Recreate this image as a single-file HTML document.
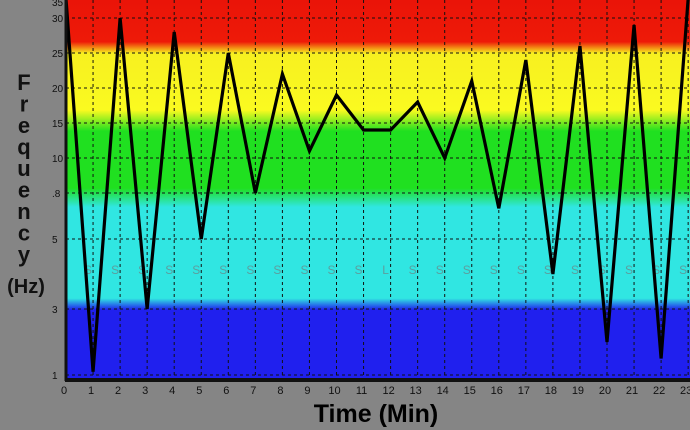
<!DOCTYPE html>
<html><head><meta charset="utf-8"><style>
body{margin:0;background:#858585;width:690px;height:430px;overflow:hidden;font-family:"Liberation Sans",sans-serif}
svg{display:block}
</style></head><body>
<svg width="690" height="430">
<defs>
<linearGradient id="bands" x1="0" y1="0" x2="0" y2="1">
<stop offset="0" stop-color="#ea1408"/>
<stop offset="0.11" stop-color="#ee1a08"/>
<stop offset="0.14" stop-color="#f7f020"/>
<stop offset="0.29" stop-color="#fafa20"/>
<stop offset="0.345" stop-color="#20e020"/>
<stop offset="0.495" stop-color="#20e020"/>
<stop offset="0.545" stop-color="#30e6e2"/>
<stop offset="0.785" stop-color="#30e6e2"/>
<stop offset="0.815" stop-color="#2020ee"/>
<stop offset="1" stop-color="#2020ee"/>
</linearGradient>
</defs>
<rect x="66" y="0" width="624" height="380" fill="url(#bands)"/>
<g id="grid"></g>
<g id="ylabels"></g>
<g id="xlabels"></g>
<g id="stages"></g>
<polyline id="series" fill="none" stroke="#000" stroke-width="3.2" stroke-linejoin="miter"/>
<line x1="66" y1="0" x2="66" y2="381" stroke="#111" stroke-width="3"/>
<line x1="65" y1="380" x2="690" y2="380" stroke="#111" stroke-width="4"/>
<text x="376" y="422" text-anchor="middle" font-size="25" font-weight="bold" fill="#000">Time (Min)</text>
<g id="ytitle" font-size="22" font-weight="bold" fill="#111" text-anchor="middle"></g>
<text x="26" y="293" text-anchor="middle" font-size="20" font-weight="bold" fill="#111">(Hz)</text>
</svg>
<script>
const times=[0,1,2,3,4,5,6,7,8,9,10,11,12,13,14,15,16,17,18,19,20,21,22,23];
const freqs=[36,1.1,30,3,28,5,25,8,22,11,19,14,14,18,10,21,7,24,4,26,2,29,1.5,36];
const yTicks=[1,3,5,8,10,15,20,25,30,35];
const yTickLabels=["1","3","5",".8","10","15","20","25","30","35"];
const xTickLabels=["0","1","2","3","4","5","6","7","8","9","10","11","12","13","14","15","16","17","18","19","20","21","22","23"];
const stageLabels=["S","S","S","S","S","S","S","S","S","S","S","L","S","S","S","S","S","S","S","S","S","S","S"];
const tickPix=[375,309,239,193,158,123,88,53,18,2];
function xs(t){return 66+t*27.05;}
function ys(v){
  if(v<=yTicks[0])return tickPix[0]+(yTicks[0]-v)*5;
  for(let i=0;i<yTicks.length-1;i++){
    if(v<=yTicks[i+1]){const f=(v-yTicks[i])/(yTicks[i+1]-yTicks[i]);return tickPix[i]+f*(tickPix[i+1]-tickPix[i]);}
  }
  const n=yTicks.length-1;return tickPix[n]+(v-yTicks[n])*(tickPix[n]-tickPix[n-1])/(yTicks[n]-yTicks[n-1]);
}
const NS="http://www.w3.org/2000/svg";
const grid=document.getElementById('grid');
for(let i=1;i<xTickLabels.length;i++){
  const l=document.createElementNS(NS,'line');
  
  
  const x=xs(+xTickLabels[i]);
  l.setAttribute('x1',x);l.setAttribute('x2',x);l.setAttribute('y1',0);l.setAttribute('y2',380);
  l.setAttribute('stroke','#111');l.setAttribute('stroke-width','1');l.setAttribute('stroke-dasharray','3,3');
  grid.appendChild(l);
}
const yl=document.getElementById('ylabels');
yTicks.forEach((v,i)=>{
  const y=ys(v);
  if(i<yTicks.length-1){
    const l=document.createElementNS(NS,'line');
    
    
    l.setAttribute('x1',66);l.setAttribute('x2',690);l.setAttribute('y1',y);l.setAttribute('y2',y);
    l.setAttribute('stroke','#111');l.setAttribute('stroke-width','1');l.setAttribute('stroke-dasharray','3,3');
    grid.appendChild(l);
  }
  const t=document.createElementNS(NS,'text');
  
  
  t.setAttribute('x',52);t.setAttribute('y',y+4);t.setAttribute('font-size','10');t.setAttribute('fill','#111');
  t.textContent=yTickLabels[i];yl.appendChild(t);
});
const xl=document.getElementById('xlabels');
xTickLabels.forEach(s=>{
  const t=document.createElementNS(NS,'text');
  
  
  t.setAttribute('x',xs(+s)-2);t.setAttribute('y',394);t.setAttribute('font-size','11');t.setAttribute('text-anchor','middle');t.setAttribute('fill','#111');
  t.textContent=s;xl.appendChild(t);
});
const st=document.getElementById('stages');
stageLabels.forEach((s,i)=>{
  const t=document.createElementNS(NS,'text');
  
  
  t.setAttribute('x',xs(i+1)-5);t.setAttribute('y',274);t.setAttribute('font-size','12');t.setAttribute('text-anchor','middle');t.setAttribute('fill','#5c9e9e');
  t.textContent=s;st.appendChild(t);
});
document.getElementById('series').setAttribute('points',times.map((t,i)=>xs(t)+','+ys(freqs[i])).join(' '));
const yt=document.getElementById('ytitle');
"Frequency".split('').forEach((c,i)=>{
  const t=document.createElementNS(NS,'text');
  
  
  t.setAttribute('x',24);t.setAttribute('y',90+i*21.5);
  t.textContent=c;yt.appendChild(t);
});
</script>
</body></html>
